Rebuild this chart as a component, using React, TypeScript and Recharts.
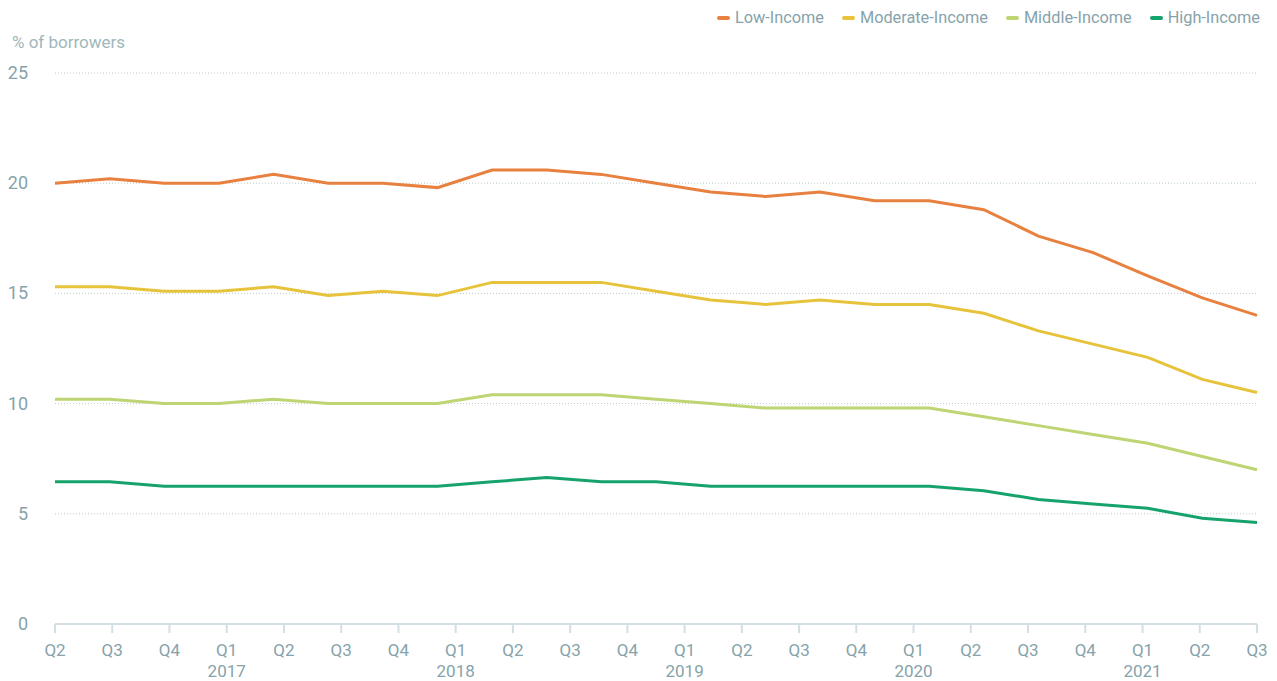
import React from 'react';
import { LineChart, Line, XAxis, YAxis, CartesianGrid } from 'recharts';

// quarterly share of borrowers, Q2 2016 .. Q3 2021 (23 observations)
const lowIncome = [20.0, 20.2, 20.0, 20.0, 20.4, 20.0, 20.0, 19.8, 20.6, 20.6, 20.4, 20.0, 19.6, 19.4, 19.6, 19.2, 19.2, 18.8, 17.6, 16.85, 15.8, 14.8, 14.0];
const moderateIncome = [15.3, 15.3, 15.1, 15.1, 15.3, 14.9, 15.1, 14.9, 15.5, 15.5, 15.5, 15.1, 14.7, 14.5, 14.7, 14.5, 14.5, 14.1, 13.3, 12.7, 12.1, 11.1, 10.5];
const middleIncome = [10.2, 10.2, 10.0, 10.0, 10.2, 10.0, 10.0, 10.0, 10.4, 10.4, 10.4, 10.2, 10.0, 9.8, 9.8, 9.8, 9.8, 9.4, 9.0, 8.6, 8.2, 7.6, 7.0];
const highIncome = [6.45, 6.45, 6.25, 6.25, 6.25, 6.25, 6.25, 6.25, 6.45, 6.65, 6.45, 6.45, 6.25, 6.25, 6.25, 6.25, 6.25, 6.05, 5.65, 5.45, 5.25, 4.8, 4.6];

const quarterLabels = ['Q2', 'Q3', 'Q4', 'Q1', 'Q2', 'Q3', 'Q4', 'Q1', 'Q2', 'Q3', 'Q4', 'Q1', 'Q2', 'Q3', 'Q4', 'Q1', 'Q2', 'Q3', 'Q4', 'Q1', 'Q2', 'Q3'];
const yearLabels = ['', '', '', '2017', '', '', '', '2018', '', '', '', '2019', '', '', '', '2020', '', '', '', '2021', '', ''];
const yTicks = [0, 5, 10, 15, 20, 25];

const series = [
  { key: 'low', name: 'Low-Income', color: '#e8803f', values: lowIncome },
  { key: 'moderate', name: 'Moderate-Income', color: '#e7c33b', values: moderateIncome },
  { key: 'middle', name: 'Middle-Income', color: '#bdd572', values: middleIncome },
  { key: 'high', name: 'High-Income', color: '#15a36b', values: highIncome },
];

const textColor = '#86a3ab';
const font = 'Roboto, "Noto Sans", sans-serif';

const lastIdx = lowIncome.length - 1;
const data = lowIncome.map((_, i) => {
  const row: any = { x: i };
  series.forEach((s) => (row[s.key] = s.values[i]));
  return row;
});
// tick labels are spread evenly across the same span as the data
const xTicks = quarterLabels.map((_, i) => (i * lastIdx) / (quarterLabels.length - 1));

const XTick = ({ x, y, index }: any) => (
  <g>
    <text x={x} y={y + 21} textAnchor="middle" fill={textColor} fontSize={17} fontFamily={font}>
      {quarterLabels[index]}
    </text>
    <text x={x} y={y + 42} textAnchor="middle" fill={textColor} fontSize={17} fontFamily={font}>
      {yearLabels[index]}
    </text>
  </g>
);

const YTick = ({ y, payload }: any) => (
  <text x={28} y={y} dy={6} textAnchor="end" fill={textColor} fontSize={18} fontFamily={font}>
    {payload.value}
  </text>
);

export default function App() {
  return (
    <div style={{ position: 'absolute', left: 0, top: 0, width: 1277, height: 681, background: '#fff' }}>
      <div
        style={{
          position: 'absolute',
          right: 17,
          top: 8,
          display: 'flex',
          gap: 18,
          fontFamily: font,
          fontSize: 16.3,
          color: textColor,
        }}
      >
        {series.map((s) => (
          <div key={s.key} style={{ display: 'flex', alignItems: 'center' }}>
            <span style={{ width: 13, height: 4, borderRadius: 2, background: s.color, marginRight: 5 }} />
            {s.name}
          </div>
        ))}
      </div>
      <div style={{ position: 'absolute', left: 12, top: 32, fontFamily: font, fontSize: 17, color: '#a0b7bc' }}>
        % of borrowers
      </div>
      <LineChart width={1277} height={681} data={data} margin={{ top: 73, right: 20, bottom: 7, left: 0 }}>
        <CartesianGrid horizontal vertical={false} stroke="#bccbcf" strokeDasharray="1 2" />
        <XAxis
          dataKey="x"
          type="number"
          domain={[0, lastIdx]}
          ticks={xTicks}
          interval={0}
          height={50}
          stroke="#d3dfe2"
          strokeWidth={2}
          tickSize={9}
          tick={<XTick />}
        />
        <YAxis
          domain={[0, 25]}
          ticks={yTicks}
          width={55}
          axisLine={false}
          tickLine={false}
          tick={<YTick />}
        />
        {series.map((s) => (
          <Line
            key={s.key}
            type="linear"
            dataKey={s.key}
            name={s.name}
            stroke={s.color}
            strokeWidth={3}
            dot={false}
            isAnimationActive={false}
          />
        ))}
      </LineChart>
    </div>
  );
}
